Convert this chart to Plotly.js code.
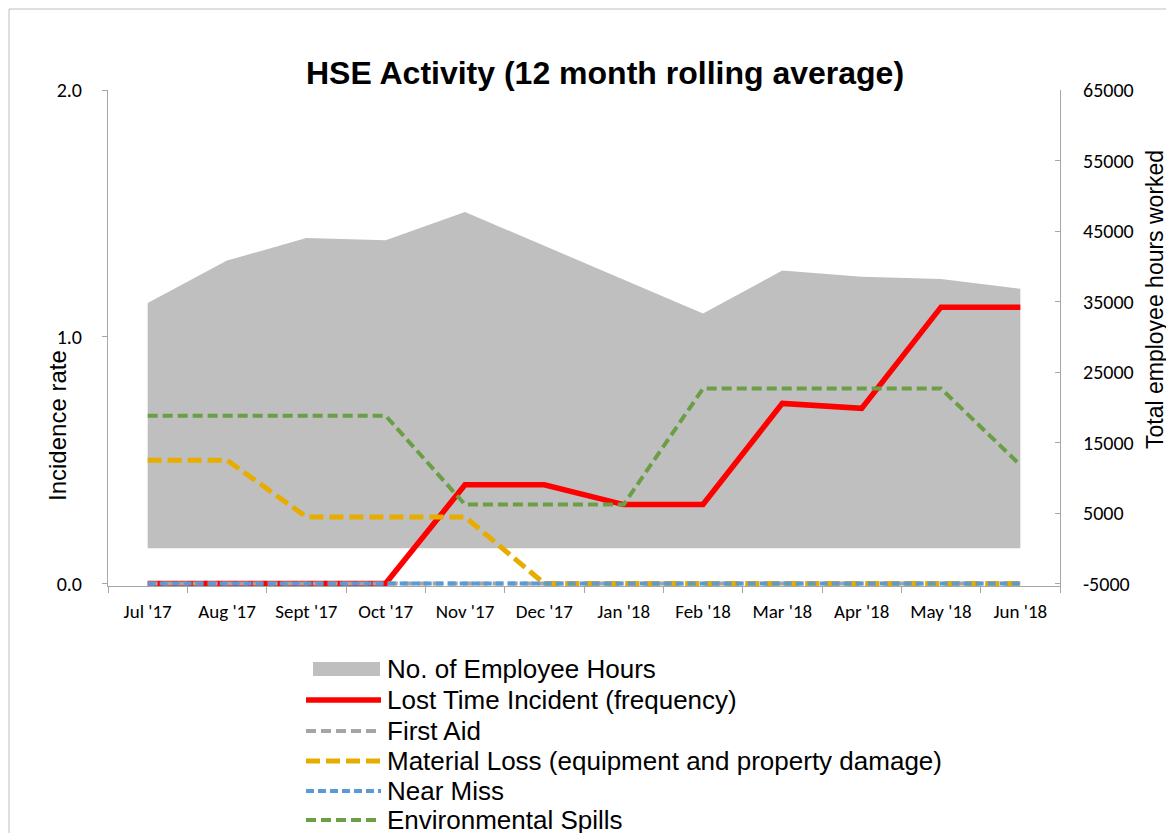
<!DOCTYPE html>
<html>
<head>
<meta charset="utf-8">
<script src="https://cdn.plot.ly/plotly-3.0.1.min.js"></script>
<style>
html,body{margin:0;padding:0;background:#fff;overflow:hidden;}
#chart{width:1166px;height:833px;}
</style>
</head>
<body>
<div id="chart"></div>
<script>
// ---- data ----
const months = ["Jul '17","Aug '17","Sept '17","Oct '17","Nov '17","Dec '17","Jan '18","Feb '18","Mar '18","Apr '18","May '18","Jun '18"];
const employeeHours = [34800, 40800, 44000, 43700, 47700, 42900, 38100, 33300, 39400, 38500, 38200, 36800];
const lostTime = [0, 0, 0, 0, 0.40, 0.40, 0.32, 0.32, 0.73, 0.71, 1.12, 1.12];
const firstAid = [0, 0, 0, 0, 0, 0, 0, 0, 0, 0, 0, 0];
const materialLoss = [0.50, 0.50, 0.27, 0.27, 0.27, 0, 0, 0, 0, 0, 0, 0];
const nearMiss = [0, 0, 0, 0, 0, 0, 0, 0, 0, 0, 0, 0];
const envSpills = [0.68, 0.68, 0.68, 0.68, 0.32, 0.32, 0.32, 0.79, 0.79, 0.79, 0.79, 0.48];
const seriesNames = ["No. of Employee Hours", "Lost Time Incident (frequency)", "First Aid",
  "Material Loss (equipment and property damage)", "Near Miss", "Environmental Spills"];
const leftTicks = [0, 1, 2];
const rightTicks = [-5000, 5000, 15000, 25000, 35000, 45000, 55000, 65000];

// ---- styles ----
const colors = ["#bfbfbf", "#ff0000", "#a5a5a5", "#e6ac00", "#5b9bd5", "#6a9f45"];
const widths = [0, 5.5, 4, 5, 4, 4];
const dashes = [null, "solid", "10px,5px", "14px,6px", "8px,4px", "10px,5px"];
const xTickFont = {family: "Carlito, Lato, sans-serif", size: 19, color: "#000"};
const yTickFont = {family: "Carlito, Lato, sans-serif", size: 20, color: "#000"};
const arial = "Liberation Sans, Arial, sans-serif";
const axisCol = "#a6a6a6";

const W = 1166, H = 833;
const mL = 108, mR = 106, mT = 90, mB = 247;
const pw = W - mL - mR, ph = H - mT - mB;
const px = x => (x - mL) / pw;
const py = y => (H - mB - y) / ph;

const lineSeries = [lostTime, firstAid, materialLoss, nearMiss, envSpills];
const data = [{
  type: "scatter", mode: "lines", x: months, y: employeeHours, yaxis: "y",
  fill: "tozeroy", fillcolor: colors[0], line: {width: 0, color: colors[0]},
  name: seriesNames[0]
}];
lineSeries.forEach((s, i) => {
  data.push({
    type: "scatter", mode: "lines", x: months, y: s, yaxis: "y2",
    name: seriesNames[i + 1],
    line: {color: colors[i + 1], width: widths[i + 1], dash: dashes[i + 1]}
  });
});

// custom legend
const shapes = [];
const annotations = [];
const legRows = [669, 700, 731, 761, 791, 820];
const symX0 = 306, symX1 = 381, txtX = 385;
seriesNames.forEach((n, i) => {
  const y = legRows[i];
  if (i === 0) {
    shapes.push({type: "rect", xref: "paper", yref: "paper",
      x0: px(313), x1: px(380), y0: py(y + 7), y1: py(y - 7),
      fillcolor: colors[0], line: {width: 0}});
  } else {
    shapes.push({type: "line", xref: "paper", yref: "paper",
      x0: px(symX0), x1: px(symX1), y0: py(y), y1: py(y),
      line: {color: colors[i], width: widths[i], dash: dashes[i]}});
  }
  annotations.push({xref: "paper", yref: "paper", x: px(txtX), y: py(y),
    xanchor: "left", yanchor: "middle", showarrow: false, text: n,
    font: {family: arial, size: 26, color: "#000"}});
});
// chart border
shapes.push({type: "rect", xref: "paper", yref: "paper", layer: "below",
  x0: px(9), x1: px(1300), y0: py(1000), y1: py(9),
  line: {color: "#bfbfbf", width: 1}, fillcolor: "rgba(0,0,0,0)"});
// axis titles
annotations.push({xref: "paper", yref: "paper", x: px(57), y: py(426), textangle: -90,
  xanchor: "center", yanchor: "middle", showarrow: false, text: "Incidence rate",
  font: {family: arial, size: 24, color: "#000"}});
annotations.push({xref: "paper", yref: "paper", x: px(1155), y: py(300), textangle: -90,
  xanchor: "center", yanchor: "middle", showarrow: false, text: "Total employee hours worked",
  font: {family: arial, size: 23, color: "#000"}});

const layout = {
  width: W, height: H,
  margin: {l: mL, r: mR, t: mT, b: mB, pad: 0},
  paper_bgcolor: "#fff", plot_bgcolor: "rgba(0,0,0,0)",
  showlegend: false,
  title: {text: "<b>HSE Activity (12 month rolling average)</b>",
    font: {family: arial, size: 32, color: "#000"},
    x: 605 / W, xanchor: "center", y: 1 - 73 / H, yanchor: "middle", yref: "container"},
  xaxis: {type: "category", range: [-0.5, 11.5], tickson: "boundaries",
    ticks: "outside", ticklen: 6, tickcolor: axisCol, showline: true, linecolor: axisCol,
    linewidth: 1, showgrid: false, zeroline: false, tickfont: xTickFont,
    ticklabelstandoff: 8},
  yaxis: {side: "right", range: [-5350, 65000], tickvals: rightTicks,
    ticktext: rightTicks.map(String),
    ticks: "inside", ticklen: 5, tickcolor: axisCol, showline: true, linecolor: axisCol,
    showgrid: false, zeroline: false, tickfont: yTickFont, ticklabelstandoff: 18},
  yaxis2: {overlaying: "y", side: "left", range: [-0.01, 2], tickvals: leftTicks,
    tickformat: ".1f", ticks: "outside", ticklen: 5, tickcolor: axisCol,
    showline: true, linecolor: axisCol, showgrid: false, zeroline: false,
    tickfont: yTickFont, ticklabelstandoff: 16},
  shapes: shapes, annotations: annotations
};
Plotly.newPlot("chart", data, layout, {displayModeBar: false, staticPlot: true});
</script>
</body>
</html>
